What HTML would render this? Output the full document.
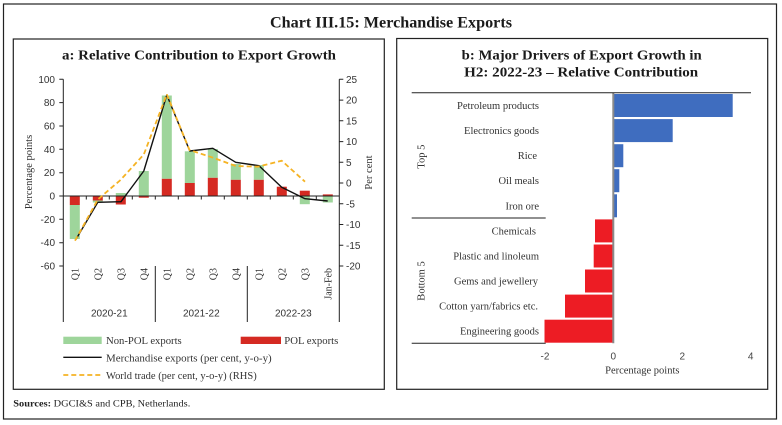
<!DOCTYPE html>
<html><head><meta charset="utf-8"><style>
html,body{margin:0;padding:0;background:#fff;}
svg{display:block;}
.s{font-family:"Liberation Sans",sans-serif;}
.f{font-family:"Liberation Serif",serif;}
</style></head><body>
<svg width="782" height="425" viewBox="0 0 782 425" xmlns="http://www.w3.org/2000/svg">
<rect x="3.5" y="4" width="773" height="415" fill="#fff" stroke="#222" stroke-width="1.2"/>
<text class="f" x="391" y="27.5" text-anchor="middle" font-size="15.5" font-weight="bold" fill="#1a1a1a" textLength="242" lengthAdjust="spacingAndGlyphs">Chart III.15: Merchandise Exports</text>
<rect x="13.3" y="39" width="371" height="350.3" fill="none" stroke="#222" stroke-width="1.2"/>
<rect x="396.7" y="38.5" width="371" height="350.8" fill="none" stroke="#222" stroke-width="1.2"/>

<!-- Panel a -->
<text class="f" x="199" y="59.3" text-anchor="middle" font-size="13.5" font-weight="bold" fill="#1a1a1a" textLength="274" lengthAdjust="spacingAndGlyphs">a: Relative Contribution to Export Growth</text>

<!-- bars -->
<g>
<rect x="69.8" y="196" width="10" height="9" fill="#d52a22"/>
<rect x="69.8" y="205" width="10" height="34" fill="#9ed59b"/>
<rect x="92.8" y="196" width="10" height="4.5" fill="#d52a22"/>
<rect x="92.8" y="200.5" width="10" height="2" fill="#9ed59b"/>
<rect x="115.8" y="193" width="10" height="3" fill="#9ed59b"/>
<rect x="115.8" y="196" width="10" height="8.5" fill="#d52a22"/>
<rect x="138.8" y="171" width="10" height="25" fill="#9ed59b"/>
<rect x="138.8" y="196" width="10" height="1.7" fill="#d52a22"/>
<rect x="161.8" y="178.7" width="10" height="17.3" fill="#d52a22"/>
<rect x="161.8" y="95.5" width="10" height="83.2" fill="#9ed59b"/>
<rect x="184.8" y="183" width="10" height="13" fill="#d52a22"/>
<rect x="184.8" y="151.3" width="10" height="31.7" fill="#9ed59b"/>
<rect x="207.8" y="177.7" width="10" height="18.3" fill="#d52a22"/>
<rect x="207.8" y="149" width="10" height="28.7" fill="#9ed59b"/>
<rect x="230.8" y="179.7" width="10" height="16.3" fill="#d52a22"/>
<rect x="230.8" y="164" width="10" height="15.7" fill="#9ed59b"/>
<rect x="253.8" y="179.7" width="10" height="16.3" fill="#d52a22"/>
<rect x="253.8" y="165" width="10" height="14.7" fill="#9ed59b"/>
<rect x="276.8" y="186.7" width="10" height="9.3" fill="#d52a22"/>
<rect x="299.8" y="190.7" width="10" height="5.3" fill="#d52a22"/>
<rect x="299.8" y="196" width="10" height="8.2" fill="#9ed59b"/>
<rect x="322.8" y="194.4" width="10" height="1.6" fill="#d52a22"/>
<rect x="322.8" y="196" width="10" height="6.5" fill="#9ed59b"/>
</g>

<!-- axes -->
<g stroke="#222" stroke-width="1" fill="none">
<line x1="63.3" y1="79.3" x2="63.3" y2="322"/>
<line x1="339.3" y1="79.3" x2="339.3" y2="322"/>
<line x1="155.3" y1="266" x2="155.3" y2="322"/>
<line x1="247.3" y1="266" x2="247.3" y2="322"/>
<line x1="63.3" y1="196" x2="339.3" y2="196"/>
<path d="M59.3 79.3H63.3M59.3 102.6H63.3M59.3 126H63.3M59.3 149.3H63.3M59.3 172.7H63.3M59.3 196H63.3M59.3 219.3H63.3M59.3 242.7H63.3M59.3 266H63.3"/>
<path d="M339.3 79.3H343.3M339.3 100.1H343.3M339.3 120.8H343.3M339.3 141.6H343.3M339.3 162.3H343.3M339.3 183H343.3M339.3 203.8H343.3M339.3 224.5H343.3M339.3 245.3H343.3M339.3 266H343.3"/>
<path d="M86.3 196V199.5M109.3 196V199.5M132.3 196V199.5M155.3 196V199.5M178.3 196V199.5M201.3 196V199.5M224.3 196V199.5M247.3 196V199.5M270.3 196V199.5M293.3 196V199.5M316.3 196V199.5"/>
</g>

<!-- lines -->
<polyline fill="none" stroke="#111" stroke-width="1.4" stroke-linejoin="round" points="76,239.3 97.8,202.3 121,201.7 143.8,171 166.8,95 189.8,151 212.8,148.3 235.7,162.3 259,165.7 281.7,187.3 305,198.7 327.7,201"/>
<polyline fill="none" stroke="#f5b324" stroke-width="1.8" stroke-dasharray="5,3" points="75,240.7 98,199.3 120.5,180 143.8,154.5 166.8,94.3 189.5,150 213,157.7 235.7,166 258,166.7 281.7,160.7 305,181.7"/>

<!-- left tick labels -->
<g class="s" font-size="10" fill="#333" text-anchor="end">
<text x="55" y="82.8">100</text>
<text x="55" y="106.1">80</text>
<text x="55" y="129.5">60</text>
<text x="55" y="152.8">40</text>
<text x="55" y="176.2">20</text>
<text x="55" y="199.5">0</text>
<text x="55" y="222.8">-20</text>
<text x="55" y="246.2">-40</text>
<text x="55" y="269.5">-60</text>
</g>
<g class="s" font-size="10" fill="#333">
<text x="346" y="82.8">25</text>
<text x="346" y="103.6">20</text>
<text x="346" y="124.3">15</text>
<text x="346" y="145.1">10</text>
<text x="346" y="165.8">5</text>
<text x="346" y="186.5">0</text>
<text x="346" y="207.3">-5</text>
<text x="346" y="228">-10</text>
<text x="346" y="248.8">-15</text>
<text x="346" y="269.5">-20</text>
</g>
<text class="f" font-size="10.5" fill="#333" text-anchor="middle" transform="translate(32,172) rotate(-90)">Percentage points</text>
<text class="f" font-size="10.5" fill="#333" text-anchor="middle" transform="translate(372,172.5) rotate(-90)">Per cent</text>

<!-- category labels -->
<g class="f" font-size="10" fill="#333" text-anchor="end">
<text transform="translate(78.3,268) rotate(-90)">Q1</text>
<text transform="translate(101.3,268) rotate(-90)">Q2</text>
<text transform="translate(124.3,268) rotate(-90)">Q3</text>
<text transform="translate(147.3,268) rotate(-90)">Q4</text>
<text transform="translate(170.3,268) rotate(-90)">Q1</text>
<text transform="translate(193.3,268) rotate(-90)">Q2</text>
<text transform="translate(216.3,268) rotate(-90)">Q3</text>
<text transform="translate(239.3,268) rotate(-90)">Q4</text>
<text transform="translate(262.3,268) rotate(-90)">Q1</text>
<text transform="translate(285.3,268) rotate(-90)">Q2</text>
<text transform="translate(308.3,268) rotate(-90)">Q3</text>
<text transform="translate(331.3,268) rotate(-90)">Jan-Feb</text>
</g>
<g class="s" font-size="10" fill="#333" text-anchor="middle">
<text x="109.3" y="316.7">2020-21</text>
<text x="201.3" y="316.7">2021-22</text>
<text x="293.3" y="316.7">2022-23</text>
</g>

<!-- legend -->
<rect x="63.3" y="336.7" width="38.4" height="7.3" fill="#9ed59b"/>
<rect x="240.7" y="336.7" width="40.3" height="7.3" fill="#d52a22"/>
<line x1="63.3" y1="357.3" x2="101.7" y2="357.3" stroke="#111" stroke-width="1.4"/>
<line x1="63.3" y1="375" x2="101.7" y2="375" stroke="#f5b324" stroke-width="1.8" stroke-dasharray="5,3"/>
<g class="f" font-size="10.5" fill="#333">
<text x="106" y="344" textLength="75.7" lengthAdjust="spacingAndGlyphs">Non-POL exports</text>
<text x="284.3" y="344" textLength="54" lengthAdjust="spacingAndGlyphs">POL exports</text>
<text x="106" y="361.3" textLength="165.7" lengthAdjust="spacingAndGlyphs">Merchandise exports  (per cent, y-o-y)</text>
<text x="106" y="378.8" textLength="150.7" lengthAdjust="spacingAndGlyphs">World trade (per cent, y-o-y) (RHS)</text>
</g>

<!-- Panel b -->
<text class="f" x="581.7" y="59.3" text-anchor="middle" font-size="13.5" font-weight="bold" fill="#1a1a1a" textLength="240" lengthAdjust="spacingAndGlyphs">b: Major Drivers of Export Growth in</text>
<text class="f" x="581.2" y="76.7" text-anchor="middle" font-size="13.5" font-weight="bold" fill="#1a1a1a" textLength="234" lengthAdjust="spacingAndGlyphs">H2: 2022-23 – Relative Contribution</text>

<g fill="#3f6dbf">
<rect x="613.3" y="94" width="119.4" height="23" />
<rect x="613.3" y="119.1" width="59.4" height="23" />
<rect x="613.3" y="144.2" width="10" height="23" />
<rect x="613.3" y="169.2" width="6" height="23" />
<rect x="613.3" y="194.3" width="3.7" height="23" />
</g>
<g fill="#ed1c24">
<rect x="595" y="219.4" width="18.3" height="23" />
<rect x="593.7" y="244.5" width="19.6" height="23" />
<rect x="585" y="269.5" width="28.3" height="23" />
<rect x="565" y="294.6" width="48.3" height="23" />
<rect x="544.5" y="319.7" width="68.8" height="23" />
</g>
<line x1="613.3" y1="92.7" x2="613.3" y2="343.3" stroke="#8a8a8a" stroke-width="2"/>
<g stroke="#222" stroke-width="1">
<line x1="411.7" y1="92.7" x2="751" y2="92.7"/>
<line x1="411.7" y1="218" x2="545.7" y2="218"/>
<line x1="411.7" y1="343.3" x2="545.7" y2="343.3"/>
</g>
<g class="f" font-size="10.5" fill="#333" text-anchor="end">
<text x="539" y="109">Petroleum products</text>
<text x="539" y="134.1">Electronics goods</text>
<text x="537" y="159.2">Rice</text>
<text x="539" y="184.2">Oil meals</text>
<text x="539" y="209.3">Iron ore</text>
<text x="536" y="234.4">Chemicals</text>
<text x="539" y="259.5">Plastic and linoleum</text>
<text x="538" y="284.5">Gems and jewellery</text>
<text x="538" y="309.6">Cotton yarn/fabrics etc.</text>
<text x="539" y="334.7">Engineering goods</text>
</g>
<text class="f" font-size="10.5" fill="#333" text-anchor="middle" transform="translate(424.5,156.7) rotate(-90)">Top 5</text>
<text class="f" font-size="10.5" fill="#333" text-anchor="middle" transform="translate(424.5,281) rotate(-90)">Bottom 5</text>
<g class="s" font-size="10" fill="#444" text-anchor="middle">
<text x="545" y="359.5">-2</text>
<text x="613.3" y="359.5">0</text>
<text x="682.3" y="359.5">2</text>
<text x="750.7" y="359.5">4</text>
</g>
<text class="f" x="642.3" y="373.5" text-anchor="middle" font-size="10.5" fill="#333">Percentage points</text>

<!-- sources -->
<text class="f" x="13.3" y="406.7" font-size="9.5" fill="#222" textLength="177" lengthAdjust="spacingAndGlyphs"><tspan font-weight="bold">Sources:</tspan> DGCI&amp;S and CPB, Netherlands.</text>
</svg>
</body></html>
